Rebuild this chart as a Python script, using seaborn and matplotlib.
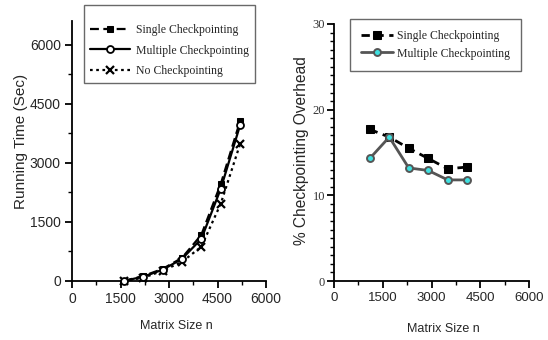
import matplotlib
matplotlib.use("Agg")
import matplotlib.pyplot as plt
from matplotlib.ticker import MultipleLocator
import seaborn as sns

# ─────────────────────────────────────────────
# Data
# ─────────────────────────────────────────────
run_sizes = [1600, 2200, 2800, 3400, 4000, 4600, 5200]
run_single = [0, 125, 305, 585, 1170, 2460, 4060]
run_multiple = [0, 110, 285, 560, 1070, 2340, 3960]
run_none = [0, 80, 260, 485, 870, 1960, 3480]

ovh_sizes = [1100, 1700, 2300, 2900, 3500, 4100]
ovh_single = [17.7, 16.8, 15.5, 14.3, 13.1, 13.3]
ovh_multiple = [14.3, 16.8, 13.2, 12.9, 11.8, 11.8]

x_ticks = [0, 1500, 3000, 4500, 6000]
run_y_ticks = [0, 1500, 3000, 4500, 6000]
ovh_y_ticks = [0, 10, 20, 30]

SANS = "Liberation Sans"
SERIF = "Liberation Serif"
CYAN = "#3fe0e0"
GRAY = "#555555"

sns.set_style("ticks")
plt.rcParams["font.family"] = [SANS, "DejaVu Sans"]

fig = plt.figure(figsize=(5.48, 3.40), dpi=100)
W, H = 548, 340
ax1 = fig.add_axes([72 / W, (H - 281) / H, 194 / W, 260 / H])
ax2 = fig.add_axes([334 / W, (H - 281) / H, 195 / W, 257 / H])

# ─────────────────────────────────────────────
# Left: running time
# ─────────────────────────────────────────────
sns.lineplot(x=run_sizes, y=run_single, ax=ax1, color="black", lw=1.6,
             linestyle=(0, (4, 2)), marker="s", markersize=5,
             markerfacecolor="black", markeredgecolor="black",
             label="Single Checkpointing", clip_on=False, zorder=3)
sns.lineplot(x=run_sizes, y=run_multiple, ax=ax1, color="black", lw=1.6,
             linestyle="-", marker="o", markersize=5,
             markerfacecolor="white", markeredgecolor="black", markeredgewidth=1.3,
             label="Multiple Checkpointing", clip_on=False, zorder=4)
sns.lineplot(x=run_sizes, y=run_none, ax=ax1, color="black", lw=1.6,
             linestyle=(0, (1.2, 1.6)), marker="x", markersize=6,
             markeredgecolor="black", markeredgewidth=1.6,
             label="No Checkpointing", clip_on=False, zorder=3)

ax1.set_xlim(0, 6000)
ax1.set_ylim(0, 6600)
ax1.set_xticks(x_ticks)
ax1.set_yticks(run_y_ticks)
ax1.xaxis.set_minor_locator(MultipleLocator(750))
ax1.yaxis.set_minor_locator(MultipleLocator(750))
ax1.set_xlabel("Matrix Size n", fontsize=9, family=SANS)
ax1.set_ylabel("Running Time (Sec)", fontsize=11, family=SANS)
ax1.xaxis.set_label_coords(0.536, -0.15)
ax1.yaxis.set_label_coords(-0.225, 0.535)

# blank tiny title gives the extra top padding seen in the original box
leg1 = ax1.legend(loc="upper left", bbox_to_anchor=(84 / W, 1 - 5 / H),
                  bbox_transform=fig.transFigure, frameon=True, fancybox=False,
                  prop={"family": SERIF, "size": 8.5}, handlelength=3.4,
                  handletextpad=0.5, borderpad=0.5, labelspacing=0.75,
                  borderaxespad=0, title=" ", title_fontsize=2)
leg1.get_frame().set_edgecolor("#444444")
leg1.get_frame().set_linewidth(1.0)

# ─────────────────────────────────────────────
# Right: checkpointing overhead
# ─────────────────────────────────────────────
sns.lineplot(x=ovh_sizes, y=ovh_single, ax=ax2, color="black", lw=2.0,
             linestyle=(0, (3, 2)), marker="s", markersize=5.5,
             markerfacecolor="black", markeredgecolor="black",
             label="Single Checkpointing")
sns.lineplot(x=ovh_sizes, y=ovh_multiple, ax=ax2, color=GRAY, lw=2.0,
             linestyle="-", marker="o", markersize=5,
             markerfacecolor=CYAN, markeredgecolor=GRAY, markeredgewidth=1.4,
             label="Multiple Checkpointing")

ax2.set_xlim(0, 6000)
ax2.set_ylim(0, 30)
ax2.set_xticks(x_ticks)
ax2.set_yticks(ovh_y_ticks)
ax2.xaxis.set_minor_locator(MultipleLocator(750))
ax2.yaxis.set_minor_locator(MultipleLocator(1))
ax2.set_xlabel("Matrix Size n", fontsize=9, family=SANS)
ax2.set_ylabel("% Checkpointing Overhead", fontsize=11.2, family=SANS)
ax2.xaxis.set_label_coords(0.56, -0.165)
ax2.yaxis.set_label_coords(-0.13, 0.506)

leg2 = ax2.legend(loc="upper left", bbox_to_anchor=(350 / W, 1 - 19 / H),
                  bbox_transform=fig.transFigure, frameon=True, fancybox=False,
                  prop={"family": SERIF, "size": 8.5}, handlelength=2.7,
                  handletextpad=0.35, borderpad=0.95, labelspacing=0.45,
                  borderaxespad=0)
leg2.get_frame().set_edgecolor("#444444")
leg2.get_frame().set_linewidth(1.0)

# common axis styling
for ax in (ax1, ax2):
    sns.despine(ax=ax)
    for side in ("left", "bottom"):
        ax.spines[side].set_linewidth(1.3)
        ax.spines[side].set_color("black")
    ax.tick_params(which="major", direction="out", length=5, width=1.3,
                   labelsize=10, color="black", pad=3)
    ax.tick_params(which="minor", direction="out", length=3, width=1.0,
                   color="black")
ax2.tick_params(axis="x", which="major", labelsize=9.5)
ax2.tick_params(axis="y", which="major", pad=1.5)
for lab in ax2.get_yticklabels():
    lab.set_family(SERIF)
    lab.set_fontsize(9)
    lab.set_color("#333333")

fig.savefig("out.png", dpi=100)
plt.close(fig)
